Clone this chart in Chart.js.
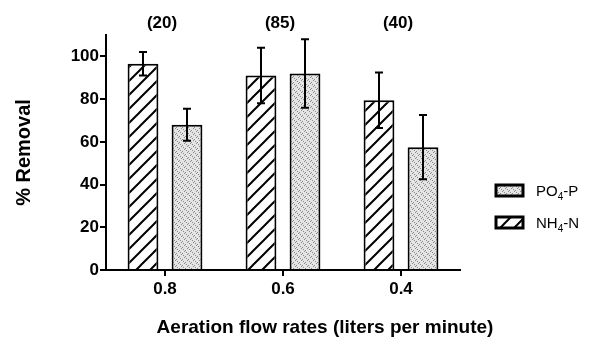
<!DOCTYPE html>
<html lang="en">

<head>
    <meta charset="UTF-8">
    <script src="https://cdn.jsdelivr.net/npm/chart.js"></script>
    <title>% Removal</title>
    <style>
        body { margin: 0; background: #fff; }
    </style>
</head>

<body>
    <canvas id="grafico" width="603" height="340"></canvas>
</body>

</html>

<script>
    var categorias = ['0.8', '0.6', '0.4'];
    var rotulosGrupo = ['(20)', '(85)', '(40)'];

    var nh4 = [96.5, 91, 79.5];
    var nh4Erro = [5.5, 13, 13];
    var po4 = [68, 92, 57.5];
    var po4Erro = [7.5, 16, 15];

    var yTicks = [0, 20, 40, 60, 80, 100];

    var fonte = "'Liberation Sans', Arial, sans-serif";

    function padraoListras() {
        var t = document.createElement('canvas');
        t.width = 14;
        t.height = 14;
        var c = t.getContext('2d');
        c.fillStyle = '#fff';
        c.fillRect(0, 0, 14, 14);
        c.strokeStyle = '#000';
        c.lineWidth = 2;
        c.beginPath();
        c.moveTo(-2, 16); c.lineTo(16, -2);
        c.moveTo(-9, 9); c.lineTo(9, -9);
        c.moveTo(5, 23); c.lineTo(23, 5);
        c.stroke();
        return c.createPattern(t, 'repeat');
    }

    function padraoPontos() {
        var t = document.createElement('canvas');
        t.width = 6;
        t.height = 6;
        var c = t.getContext('2d');
        c.fillStyle = '#e4e4e4';
        c.fillRect(0, 0, 6, 6);
        c.fillStyle = '#8a8a8a';
        c.fillRect(0, 0, 1, 1);
        c.fillRect(2, 1, 1, 1);
        c.fillRect(1, 2, 1, 1);
        c.fillRect(3, 3, 1, 1);
        c.fillRect(5, 4, 1, 1);
        c.fillRect(4, 5, 1, 1);
        return c.createPattern(t, 'repeat');
    }

    var listras = padraoListras();
    var pontos = padraoPontos();

    // barras de erro, rotulos de cima, legenda e titulo do eixo x
    var extras = {
        id: 'extras',
        afterDatasetsDraw: function (chart) {
            var ctx = chart.ctx;
            var y = chart.scales.y;
            ctx.save();
            ctx.strokeStyle = '#000';
            ctx.lineWidth = 2;
            chart.data.datasets.forEach(function (ds, d) {
                var meta = chart.getDatasetMeta(d);
                meta.data.forEach(function (bar, i) {
                    var topo = y.getPixelForValue(ds.data[i] + ds.erro[i]);
                    var base = y.getPixelForValue(ds.data[i] - ds.erro[i]);
                    ctx.beginPath();
                    ctx.moveTo(bar.x, topo); ctx.lineTo(bar.x, base);
                    ctx.moveTo(bar.x - 4, topo); ctx.lineTo(bar.x + 4, topo);
                    ctx.moveTo(bar.x - 4, base); ctx.lineTo(bar.x + 4, base);
                    ctx.stroke();
                });
            });
            ctx.restore();
        },
        afterDraw: function (chart) {
            var ctx = chart.ctx;
            var x = chart.scales.x;
            var area = chart.chartArea;
            ctx.save();
            ctx.fillStyle = '#000';
            ctx.textAlign = 'center';
            ctx.textBaseline = 'middle';
            ctx.font = 'bold 17px ' + fonte;
            rotulosGrupo.forEach(function (r, i) {
                ctx.fillText(r, x.getPixelForValue(i) - 3, 23);
            });

            ctx.font = 'bold 19px ' + fonte;
            ctx.fillText('Aeration flow rates (liters per minute)', 325, 328);

            // legenda (ordem invertida)
            var itens = chart.data.datasets.slice().reverse();
            itens.forEach(function (ds, i) {
                var bx = area.right + 36;
                var by = 185 + i * 32;
                ctx.fillStyle = ds.backgroundColor;
                ctx.fillRect(bx, by, 27, 11);
                ctx.strokeStyle = '#000';
                ctx.lineWidth = 3;
                ctx.strokeRect(bx, by, 27, 11);

                ctx.fillStyle = '#000';
                ctx.textAlign = 'left';
                ctx.textBaseline = 'alphabetic';
                var partes = ds.label.split('4');
                var tx = bx + 40;
                var base = by + 11;
                ctx.font = '15px ' + fonte;
                ctx.fillText(partes[0], tx, base);
                tx += ctx.measureText(partes[0]).width;
                ctx.font = '10px ' + fonte;
                ctx.fillText('4', tx, base + 4);
                tx += ctx.measureText('4').width;
                ctx.font = '15px ' + fonte;
                ctx.fillText(partes[1], tx, base);
            });
            ctx.restore();
        }
    };

    var ctx = document.getElementById('grafico');
    var grafico = new Chart(ctx, {
        type: 'bar',
        data: {
            labels: categorias,
            datasets: [{
                label: 'NH4-N',
                data: nh4,
                erro: nh4Erro,
                backgroundColor: listras,
                borderColor: '#000',
                borderWidth: 2
            }, {
                label: 'PO4-P',
                data: po4,
                erro: po4Erro,
                backgroundColor: pontos,
                borderColor: '#000',
                borderWidth: 2
            }]
        },
        options: {
            responsive: false,
            animation: false,
            categoryPercentage: 0.746,
            barPercentage: 0.7,
            layout: {
                padding: { top: 35, right: 143, left: 0, bottom: 0 }
            },
            plugins: {
                legend: { display: false },
                tooltip: { enabled: false }
            },
            scales: {
                x: {
                    afterFit: function (s) { s.height = 70; },
                    border: { color: '#000', width: 2 },
                    grid: {
                        offset: false,
                        drawOnChartArea: false,
                        color: '#000',
                        lineWidth: 2,
                        tickLength: 6
                    },
                    ticks: {
                        color: '#000',
                        padding: 3,
                        font: { family: fonte, size: 17, weight: 'bold' }
                    }
                },
                y: {
                    min: 0,
                    max: 110,
                    afterFit: function (s) { s.width = 106; },
                    afterBuildTicks: function (s) {
                        s.ticks = yTicks.map(function (v) { return { value: v }; });
                    },
                    border: { color: '#000', width: 2 },
                    grid: {
                        drawOnChartArea: false,
                        color: '#000',
                        lineWidth: 2,
                        tickLength: 6
                    },
                    ticks: {
                        color: '#000',
                        padding: 1,
                        font: { family: fonte, size: 17, weight: 'bold' }
                    },
                    title: {
                        display: true,
                        text: '% Removal',
                        color: '#000',
                        padding: { top: 12 },
                        font: { family: fonte, size: 20, weight: 'bold' }
                    }
                }
            }
        },
        plugins: [extras]
    });
</script>
